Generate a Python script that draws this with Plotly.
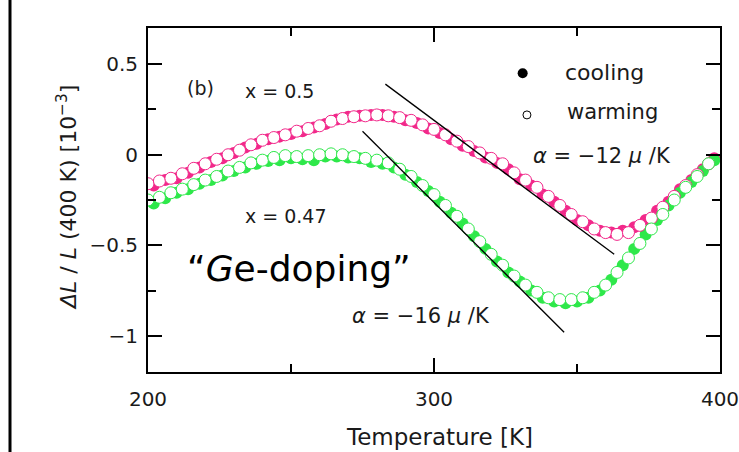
import plotly.graph_objects as go

# ---------------- data ----------------
T_warm = [200, 204, 208, 212, 216, 220, 224, 228, 232, 236, 240, 244, 248, 252, 256,
          260, 264, 268, 272, 276, 280, 284, 288, 292, 296, 300, 304, 308, 312, 316,
          320, 324, 328, 332, 336, 340, 344, 348, 352, 356, 360, 364, 368, 372, 376,
          380, 384, 388, 392, 396]
T_cool = [202, 206, 210, 214, 218, 222, 226, 230, 234, 238, 242, 246, 250, 254, 258,
          262, 266, 270, 274, 278, 282, 286, 290, 294, 298, 302, 306, 310, 314, 318,
          322, 326, 330, 334, 338, 342, 346, 350, 354, 358, 362, 366, 370, 374, 378,
          382, 386, 390, 394, 398]

x050_warm = [-0.16, -0.145, -0.13, -0.105, -0.075, -0.05, -0.025, 0.00, 0.025, 0.055,
             0.08, 0.095, 0.11, 0.13, 0.145, 0.16, 0.185, 0.20, 0.21, 0.215,
             0.22, 0.215, 0.205, 0.19, 0.165, 0.14, 0.11, 0.075, 0.045, 0.01,
             -0.02, -0.05, -0.10, -0.14, -0.18, -0.23, -0.28, -0.33, -0.37, -0.41,
             -0.43, -0.44, -0.43, -0.39, -0.35, -0.29, -0.23, -0.17, -0.11, -0.05]
x050_cool = [-0.17, -0.14, -0.13, -0.10, -0.07, -0.04, -0.02, 0.01, 0.04, 0.06,
             0.085, 0.10, 0.115, 0.13, 0.15, 0.17, 0.195, 0.21, 0.215, 0.22,
             0.22, 0.21, 0.19, 0.175, 0.145, 0.12, 0.085, 0.05, 0.02, -0.015,
             -0.045, -0.08, -0.135, -0.17, -0.22, -0.26, -0.31, -0.36, -0.39, -0.42,
             -0.43, -0.42, -0.40, -0.36, -0.31, -0.26, -0.19, -0.14, -0.08, -0.02]
x047_warm = [-0.25, -0.235, -0.21, -0.19, -0.165, -0.14, -0.12, -0.09, -0.07, -0.045,
             -0.03, -0.015, -0.005, -0.01, -0.005, 0.00, 0.005, 0.00, -0.01, -0.02,
             -0.03, -0.045, -0.08, -0.12, -0.17, -0.22, -0.28, -0.34, -0.41, -0.48,
             -0.55, -0.61, -0.67, -0.72, -0.76, -0.79, -0.80, -0.80, -0.79, -0.76,
             -0.72, -0.65, -0.57, -0.49, -0.41, -0.33, -0.25, -0.18, -0.12, -0.05]
x047_cool = [-0.27, -0.24, -0.21, -0.19, -0.16, -0.14, -0.115, -0.09, -0.07, -0.05,
             -0.035, -0.03, -0.02, -0.025, -0.03, -0.01, -0.01, -0.015, -0.02, -0.04,
             -0.05, -0.07, -0.11, -0.15, -0.20, -0.26, -0.32, -0.38, -0.45, -0.52,
             -0.59, -0.65, -0.70, -0.75, -0.79, -0.81, -0.82, -0.81, -0.79, -0.75,
             -0.69, -0.61, -0.52, -0.44, -0.36, -0.28, -0.21, -0.15, -0.09, -0.03]

fit050_T = [283, 363]
fit050_y = [0.39, -0.55]
fit047_T = [275, 345.5]
fit047_y = [0.13, -0.98]

legend_T = [331, 332.5]
legend_y = [0.45, 0.22]

x_ticks = [200, 300, 400]
y_ticks = [-1, -0.5, 0, 0.5]
y_ticklabels = ["\u22121", "\u22120.5", "0", "0.5"]

PINK = "#f2288a"
GREEN = "#2ee84a"
FONT = "DejaVu Sans"
TXT = "#1a1a1a"

fig = go.Figure()

def add_series(T, y, color, filled):
    fig.add_trace(go.Scatter(
        x=T, y=y, mode="markers", showlegend=False,
        marker=dict(size=12, symbol="circle",
                    color=color if filled else "white",
                    line=dict(color=color, width=1 if not filled else 0))))

add_series(T_cool, x050_cool, PINK, True)
add_series(T_cool, x047_cool, GREEN, True)
add_series(T_warm, x050_warm, PINK, False)
add_series(T_warm, x047_warm, GREEN, False)

for T, y in [(fit050_T, fit050_y), (fit047_T, fit047_y)]:
    fig.add_trace(go.Scatter(x=T, y=y, mode="lines", showlegend=False,
                             line=dict(color="black", width=1.3)))

# legend symbols
fig.add_trace(go.Scatter(x=[legend_T[0]], y=[legend_y[0]], mode="markers", showlegend=False,
                         marker=dict(size=10, color="black")))
fig.add_trace(go.Scatter(x=[legend_T[1]], y=[legend_y[1]], mode="markers", showlegend=False,
                         marker=dict(size=8, color="white", line=dict(color="black", width=1))))

ann = [
    dict(x=200, y=88, text="(b)", size=19),
    dict(x=279, y=91, text="x = 0.5", size=19),
    dict(x=286, y=216, text="x = 0.47", size=19),
    dict(x=602, y=156, text="<i>\u03b1</i> = \u221212 <i>\u03bc</i> /K", size=21),
    dict(x=421, y=316, text="<i>\u03b1</i> = \u221216 <i>\u03bc</i> /K", size=21),
    dict(x=604, y=72, text="cooling", size=22),
    dict(x=612, y=112, text="warming", size=21),
]
L, R, Tm, B = 148, 19, 28, 80
W, H = 739, 452
pw, ph = W - L - R, H - Tm - B

def px2paper(x, y):
    return (x - L) / pw, 1 - (y - Tm) / ph

for a in ann:
    xp, yp = px2paper(a["x"], a["y"])
    fig.add_annotation(x=xp, y=yp, xref="paper", yref="paper", text=a["text"],
                       showarrow=False, xanchor="center", yanchor="middle",
                       font=dict(family=FONT, size=a["size"], color=TXT))

xp, yp = px2paper(299, 268)
fig.add_annotation(x=xp, y=yp, xref="paper", yref="paper",
                   text="\u201c<i>G</i>e-doping\u201d", showarrow=False,
                   xanchor="center", yanchor="middle",
                   font=dict(family="DejaVu Sans", size=36, color="black"))

# axis titles
xp, yp = px2paper(439, 437)
fig.add_annotation(x=xp, y=yp, xref="paper", yref="paper", text="Temperature [K]",
                   showarrow=False, xanchor="center", yanchor="middle",
                   font=dict(family=FONT, size=23, color=TXT))
xp, yp = px2paper(67, 198)
fig.add_annotation(x=xp, y=yp, xref="paper", yref="paper",
                   text="<i>\u0394L</i> / <i>L</i> (400 K) [10<sup>\u22123</sup>]",
                   textangle=-90, showarrow=False, xanchor="center", yanchor="middle",
                   font=dict(family=FONT, size=22, color=TXT))

# slide edge line on the far left
xp0, _ = px2paper(10, 0)
fig.add_shape(type="line", xref="paper", yref="paper", x0=xp0, x1=xp0, y0=-0.5, y1=1.5,
              line=dict(color="black", width=3))

axis_common = dict(showgrid=False, zeroline=False, showline=True, linecolor="black",
                   linewidth=2, mirror="ticks", ticks="inside", ticklen=14, tickwidth=2,
                   tickcolor="black", tickfont=dict(family=FONT, size=20, color=TXT),
                   ticklabeloverflow="allow")
fig.update_xaxes(range=[200, 400], tickmode="array", tickvals=x_ticks,
                 ticktext=[str(v) for v in x_ticks], ticklabelstandoff=8,
                 minor=dict(ticks="inside", ticklen=8, tickwidth=2, tickcolor="black",
                            tickmode="array", tickvals=[250, 350]),
                 **axis_common)
fig.update_yaxes(range=[-1.2, 0.7], tickmode="array", tickvals=y_ticks, ticktext=y_ticklabels,
                 ticklabelstandoff=4,
                 minor=dict(ticks="inside", ticklen=8, tickwidth=2, tickcolor="black",
                            tickmode="array", tickvals=[-0.75, -0.25, 0.25]),
                 **axis_common)

fig.update_layout(width=W, height=H, margin=dict(l=L, r=R, t=Tm, b=B, autoexpand=False),
                  paper_bgcolor="white", plot_bgcolor="white", showlegend=False)

fig.write_html("out.html", config={"displayModeBar": False, "responsive": False})

# remove the default page margin so the figure sits at the window's top-left corner
with open("out.html", "r", encoding="utf-8") as f:
    html = f.read()
html = html.replace("<head>", "<head><style>html,body{margin:0;padding:0;overflow:hidden;}</style>", 1)
with open("out.html", "w", encoding="utf-8") as f:
    f.write(html)
